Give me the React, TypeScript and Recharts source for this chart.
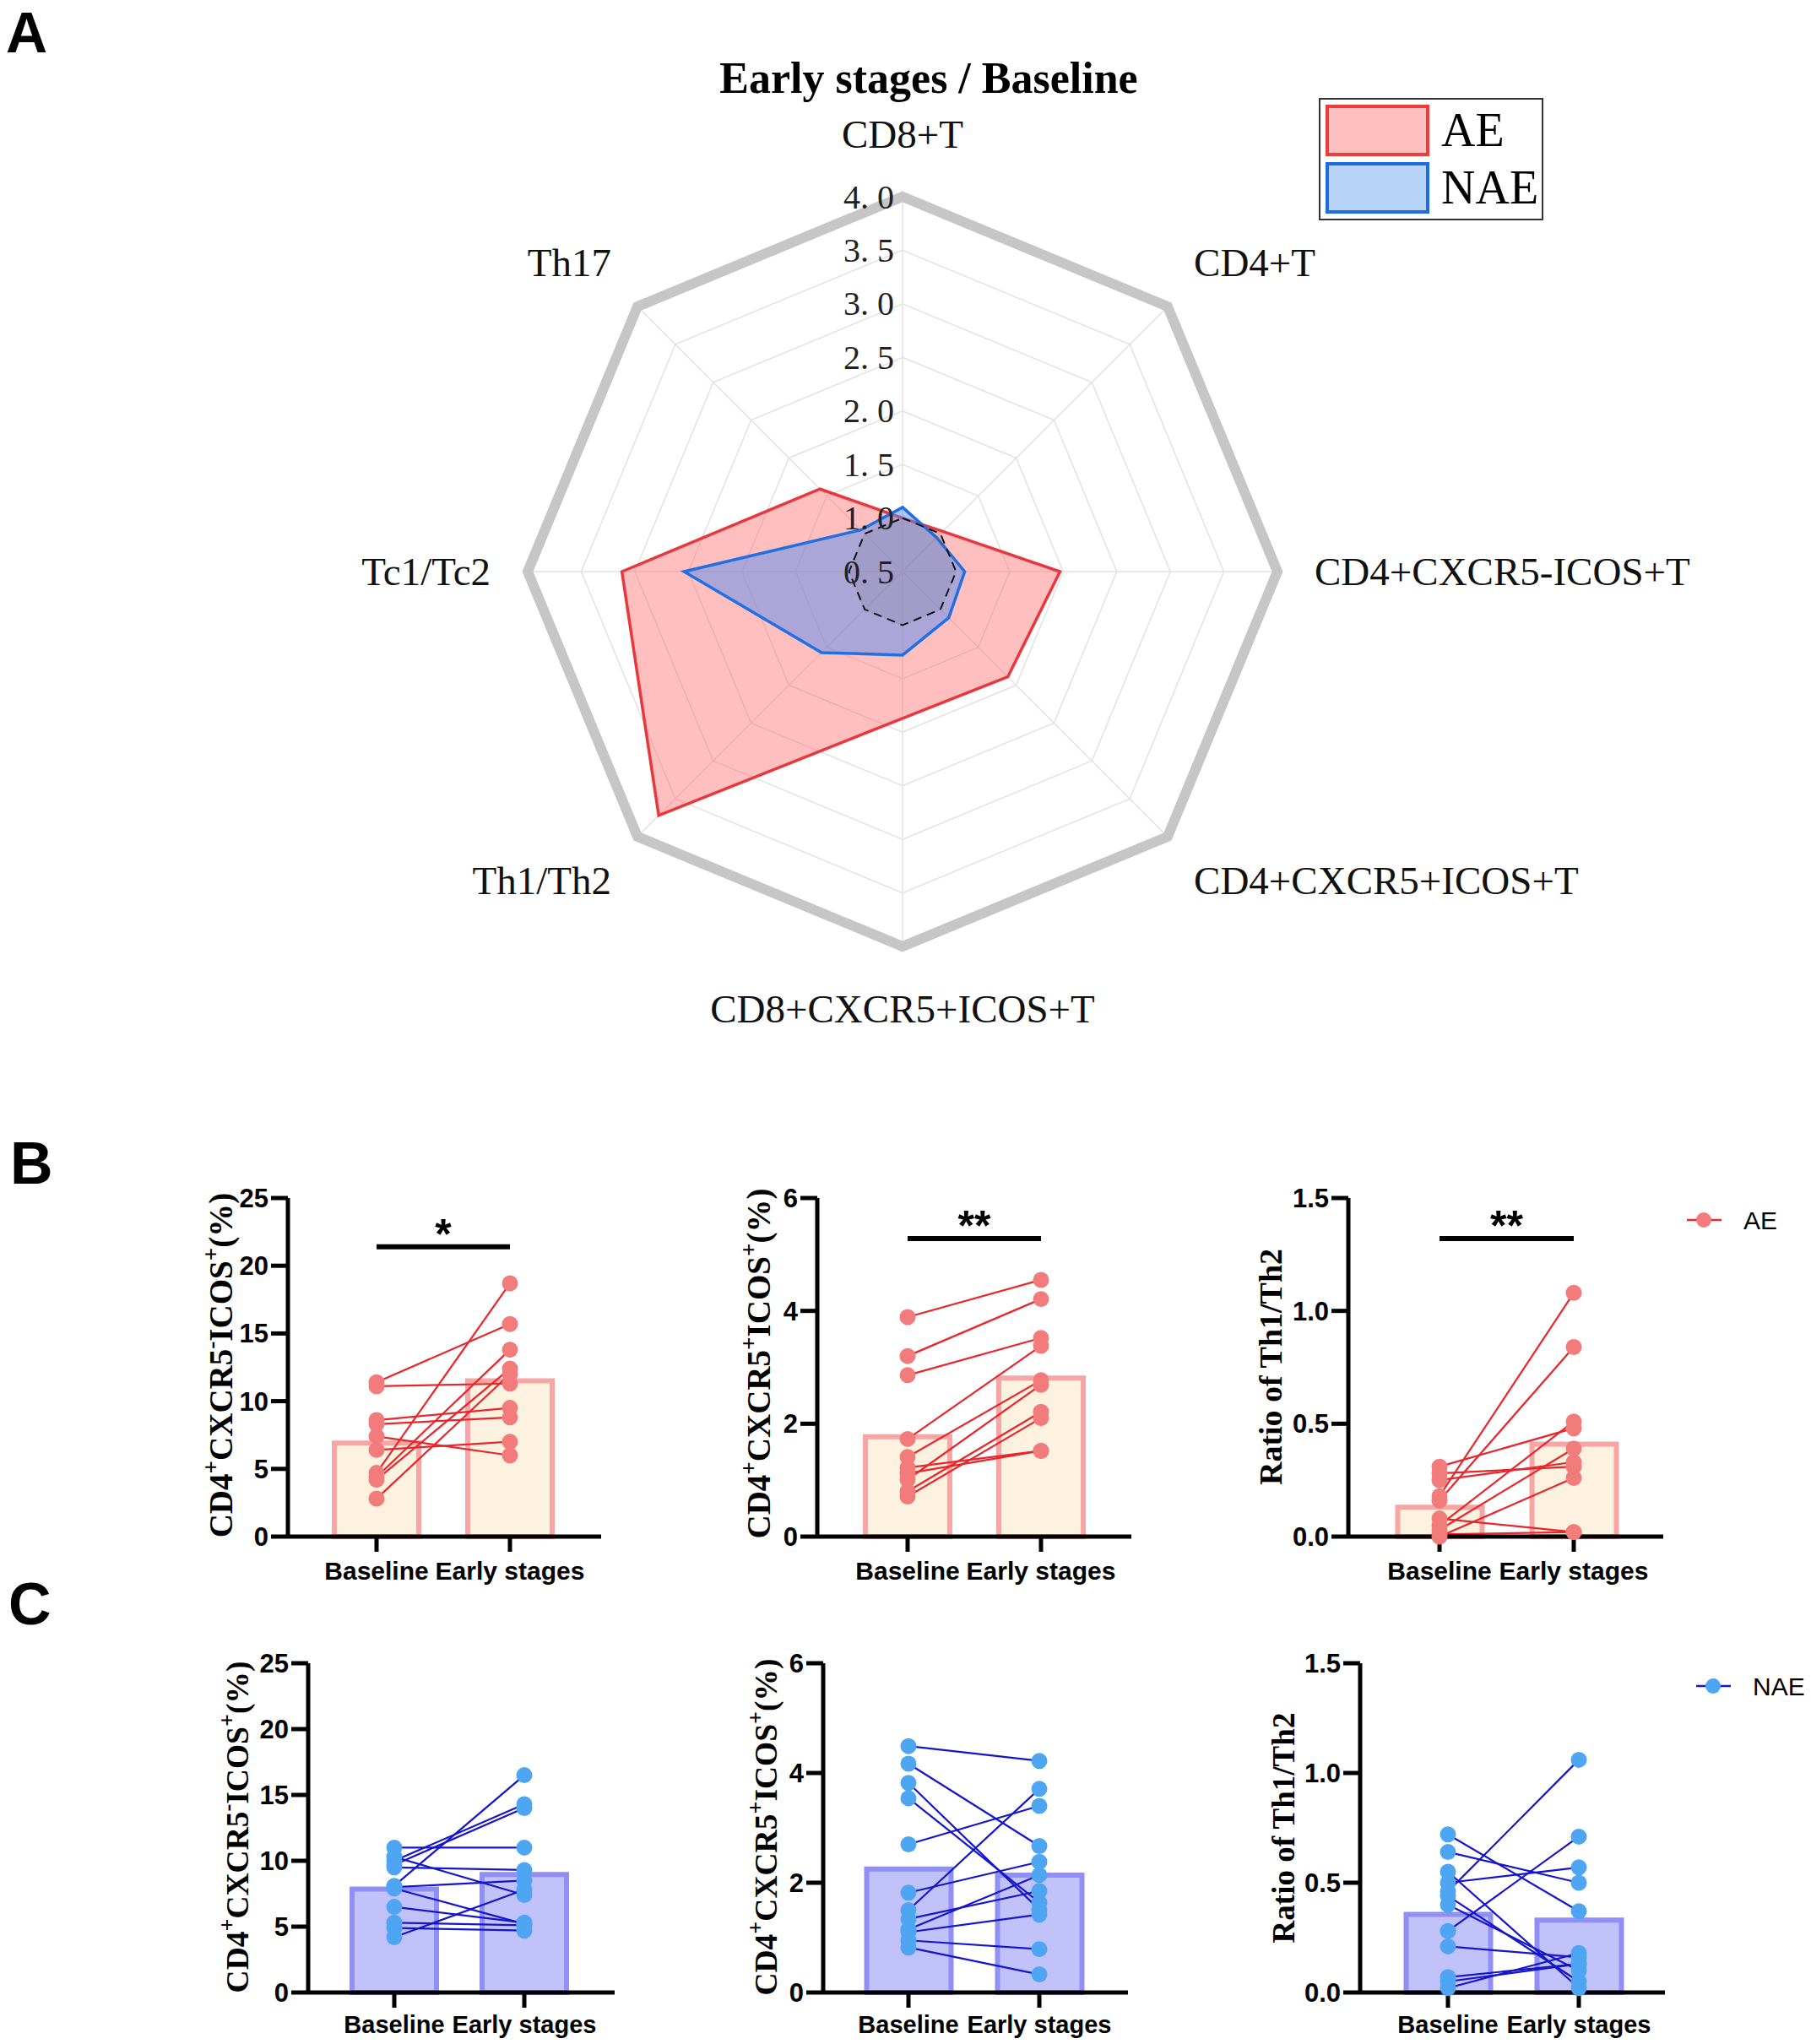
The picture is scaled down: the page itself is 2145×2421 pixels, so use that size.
import React from "react";
import {
  RadarChart,
  Radar,
  PolarGrid,
  PolarAngleAxis,
  PolarRadiusAxis,
  ComposedChart,
  Bar,
  Line,
  XAxis,
  YAxis,
  ReferenceLine,
} from "recharts";

const SERIF = '"Liberation Serif", "Times New Roman", serif';
const SANS = '"Liberation Sans", Arial, sans-serif';

// ---- A: radar, Early stages / Baseline ratios ----
const radarAxes = [
  "CD8+T",
  "CD4+T",
  "CD4+CXCR5-ICOS+T",
  "CD4+CXCR5+ICOS+T",
  "CD8+CXCR5+ICOS+T",
  "Th1/Th2",
  "Tc1/Tc2",
  "Th17",
];
const aeRatio = [1.0, 1.03, 1.97, 1.89, 1.87, 3.72, 3.12, 1.59];
const naeRatio = [1.1, 0.95, 1.08, 1.11, 1.28, 1.57, 2.54, 1.05];
const baselineRatio = [1, 1, 1, 1, 1, 1, 1, 1];
const radarTicks = [0.5, 1, 1.5, 2, 2.5, 3, 3.5, 4];

// ---- B / C: paired values ----
const stages = ["Baseline", "Early stages"];

const aeNegBase = [11.4, 11.1, 8.6, 8.3, 7.4, 6.4, 4.7, 4.4, 4.2, 2.8];
const aeNegEarly = [15.7, 11.3, 9.5, 8.8, 6.0, 7.0, 18.7, 13.8, 12.4, 12.0];
const aeNegMean = [6.9, 11.5];

const aePosBase = [3.89, 3.2, 2.86, 1.73, 1.41, 1.22, 1.12, 1.01, 0.8, 0.71];
const aePosEarly = [4.55, 4.21, 3.52, 3.38, 2.77, 1.52, 1.52, 2.69, 2.21, 2.1];
const aePosMean = [1.77, 2.81];

const aeThBase = [0.31, 0.28, 0.25, 0.18, 0.16, 0.08, 0.05, 0.03, 0.01, 0.0];
const aeThEarly = [0.48, 0.31, 0.33, 1.08, 0.84, 0.02, 0.51, 0.39, 0.02, 0.26];
const aeThMean = [0.13, 0.41];

const naeNegBase = [11.0, 10.0, 9.7, 9.5, 10.3, 8.0, 8.1, 7.9, 6.5, 5.3, 4.9, 4.2];
const naeNegEarly = [11.0, 14.3, 14.0, 9.3, 7.4, 8.5, 16.5, 5.2, 5.3, 5.1, 4.7, 7.8];
const naeNegMean = [7.85, 8.96];

const naePosBase = [4.49, 4.17, 3.82, 3.54, 2.7, 1.82, 1.5, 1.34, 1.15, 1.1, 0.95, 0.82];
const naePosEarly = [4.22, 2.67, 1.51, 1.64, 3.4, 2.38, 3.71, 1.85, 2.14, 1.42, 0.79, 0.33];
const naePosMean = [2.25, 2.14];

const naeThBase = [0.72, 0.64, 0.55, 0.5, 0.46, 0.44, 0.4, 0.28, 0.21, 0.07, 0.05, 0.02];
const naeThEarly = [0.37, 0.5, 0.02, 0.57, 1.06, 0.05, 0.1, 0.71, 0.16, 0.13, 0.13, 0.18];
const naeThMean = [0.356, 0.33];

const CX = 1069;
const CY = 677;

const AngleTick = (props: any) => {
  const { x, y, payload } = props;
  const ang = Math.atan2(CY - y, x - CX);
  const cos = Math.cos(ang);
  const sin = Math.sin(ang);
  const anchor = cos > 0.1 ? "start" : cos < -0.1 ? "end" : "middle";
  return (
    <text
      x={CX + 488 * cos}
      y={CY - 518 * sin}
      textAnchor={anchor}
      dominantBaseline="central"
      fontFamily={SERIF}
      fontSize={47}
      fill="#111"
    >
      {payload.value}
    </text>
  );
};

const RadiusTick = (props: any) => {
  const { x, y, payload } = props;
  return (
    <text
      x={x - 10}
      y={y}
      textAnchor="end"
      dominantBaseline="central"
      fontFamily={SERIF}
      fontSize={40}
      fill="#222"
    >
      {Number(payload.value).toFixed(1).replace(".", ". ")}
    </text>
  );
};

const RadarPanel = () => {
  const data = radarAxes.map((axis, i) => ({
    axis,
    ae: aeRatio[i],
    nae: naeRatio[i],
    base: baselineRatio[i],
  }));
  return (
    <div style={{ position: "absolute", left: 0, top: 0, width: 2145, height: 1290 }}>
      <RadarChart
        width={2145}
        height={1290}
        data={data}
        cx={CX}
        cy={CY}
        outerRadius={444}
        margin={{ top: 0, right: 0, bottom: 0, left: 0 }}
      >
        <PolarGrid gridType="polygon" stroke="#e2e2e2" strokeWidth={1.5} />
        <PolarAngleAxis
          dataKey="axis"
          axisLineType="polygon"
          axisLine={{ stroke: "#c6c6c6", strokeWidth: 12 }}
          tickLine={false}
          tick={AngleTick}
        />
        <PolarRadiusAxis
          type="number"
          angle={90}
          domain={[0.5, 4]}
          ticks={radarTicks as any}
          tickCount={8}
          axisLine={false}
          tick={RadiusTick}
        />
        <Radar
          dataKey="ae"
          stroke="#e8383d"
          strokeWidth={3.5}
          fill="#ff6b6b"
          fillOpacity={0.43}
          isAnimationActive={false}
        />
        <Radar
          dataKey="nae"
          stroke="#1f6fe5"
          strokeWidth={3.5}
          fill="#5a8cf0"
          fillOpacity={0.5}
          isAnimationActive={false}
        />
        <Radar
          dataKey="base"
          stroke="#111"
          strokeWidth={2}
          strokeDasharray="10 7"
          fill="#4a4a4a"
          fillOpacity={0.1}
          isAnimationActive={false}
        />
      </RadarChart>
    </div>
  );
};

type PanelProps = {
  base: number[];
  early: number[];
  mean: number[];
  yMax: number;
  yTicks: number[];
  decimals: number;
  axisX: number;
  topY: number;
  zeroY: number;
  rightX: number;
  c1: number;
  c2: number;
  barFill: string;
  barStroke: string;
  dotFill: string;
  lineStroke: string;
  tickGap: number;
  tickFont: number;
  sig?: { y: number; text: string };
};

const YW = 150;
const MT = 120;
const XH = 80;
const MR = 12;

const PairPanel = (p: PanelProps) => {
  const plotW = p.rightX - p.axisX;
  const band = p.c2 - p.c1;
  const padL = p.c1 - p.axisX - band / 2;
  const padR = plotW - padL - 2 * band;
  const width = plotW + YW + MR;
  const height = p.zeroY - p.topY + MT + XH;
  const data = stages.map((name, s) => {
    const row: any = { name, mean: p.mean[s] };
    const vals = s === 0 ? p.base : p.early;
    vals.forEach((v, i) => {
      row[`p${i}`] = v;
    });
    return row;
  });
  const axisStyle = { stroke: "#000", strokeWidth: 5 };
  return (
    <div style={{ position: "absolute", left: p.axisX - YW, top: p.topY - MT, width, height }}>
      <ComposedChart width={width} height={height} data={data} margin={{ top: MT, right: MR, bottom: 0, left: 0 }}>
        <XAxis
          dataKey="name"
          type="category"
          interval={0}
          height={XH}
          padding={{ left: padL, right: padR }}
          tickSize={18}
          tickMargin={p.tickGap}
          axisLine={axisStyle}
          tickLine={axisStyle}
          tick={{ fontFamily: SANS, fontWeight: 700, fontSize: p.tickFont, fill: "#000" }}
        />
        <YAxis
          type="number"
          domain={[0, p.yMax]}
          ticks={p.yTicks}
          interval={0}
          width={YW}
          tickSize={20}
          tickMargin={3}
          axisLine={axisStyle}
          tickLine={axisStyle}
          tickFormatter={(v: number) => v.toFixed(p.decimals)}
          tick={{ fontFamily: SANS, fontWeight: 700, fontSize: 31, fill: "#000" }}
        />
        <Bar
          dataKey="mean"
          barSize={100}
          fill={p.barFill}
          stroke={p.barStroke}
          strokeWidth={6}
          isAnimationActive={false}
        />
        {p.base.map((_, i) => (
          <Line
            key={i}
            dataKey={`p${i}`}
            stroke={p.lineStroke}
            strokeWidth={2.2}
            dot={{ r: 9.5, fill: p.dotFill, stroke: p.dotFill, strokeWidth: 0 }}
            activeDot={false}
            isAnimationActive={false}
          />
        ))}
        {p.sig && (
          <ReferenceLine
            segment={[
              { x: stages[0], y: p.sig.y },
              { x: stages[1], y: p.sig.y },
            ]}
            stroke="#000"
            strokeWidth={6}
            label={{
              value: p.sig.text,
              position: "top",
              offset: -2,
              fill: "#000",
              fontSize: 50,
              fontWeight: 700,
              fontFamily: SANS,
            }}
          />
        )}
      </ComposedChart>
    </div>
  );
};

const Cd4Label = ({ x, y, size, neg }: { x: number; y: number; size: number; neg: boolean }) => {
  const sup = size * 0.42;
  const small = size * 0.7;
  return (
    <text
      transform={`translate(${x},${y}) rotate(-90)`}
      textAnchor="middle"
      fontFamily={SERIF}
      fontWeight={700}
      fontSize={size}
      fill="#000"
    >
      CD4
      <tspan dy={-sup} fontSize={small}>+</tspan>
      <tspan dy={sup}>CXCR5</tspan>
      <tspan dy={-sup} fontSize={small}>{neg ? "-" : "+"}</tspan>
      <tspan dy={sup}>ICOS</tspan>
      <tspan dy={-sup} fontSize={small}>+</tspan>
      <tspan dy={sup}>(%)</tspan>
    </text>
  );
};

const RatioLabel = ({ x, y, size }: { x: number; y: number; size: number }) => (
  <text
    transform={`translate(${x},${y}) rotate(-90)`}
    textAnchor="middle"
    fontFamily={SERIF}
    fontWeight={700}
    fontSize={size}
    fill="#000"
  >
    Ratio of Th1/Th2
  </text>
);

const SeriesKey = ({ x, y, name, line, dot }: { x: number; y: number; name: string; line: string; dot: string }) => (
  <g>
    <line x1={x} y1={y} x2={x + 41} y2={y} stroke={line} strokeWidth={2.5} />
    <circle cx={x + 20} cy={y} r={9} fill={dot} />
    <text x={x + 67} y={y + 11} fontFamily={SANS} fontSize={30} fill="#000">
      {name}
    </text>
  </g>
);

const Overlay = () => (
  <svg
    width={2145}
    height={2421}
    style={{ position: "absolute", left: 0, top: 0, pointerEvents: "none" }}
  >
    <text x={7} y={62} fontFamily={SANS} fontWeight={700} fontSize={68} fill="#000">A</text>
    <text x={12} y={1402} fontFamily={SANS} fontWeight={700} fontSize={70} fill="#000">B</text>
    <text x={10} y={1924} fontFamily={SANS} fontWeight={700} fontSize={70} fill="#000">C</text>

    <text x={1100} y={110} textAnchor="middle" fontFamily={SERIF} fontWeight={700} fontSize={52} fill="#000">
      Early stages / Baseline
    </text>

    <rect x={1563} y={117} width={264} height={143} fill="#fff" stroke="#333" strokeWidth={2} />
    <rect x={1572} y={126} width={119} height={57} fill="#ffbfbf" stroke="#ee3b3b" strokeWidth={4} />
    <rect x={1572} y={194} width={119} height={57} fill="#b7d4f6" stroke="#1c6ee0" strokeWidth={4} />
    <text x={1707} y={173} fontFamily={SERIF} fontSize={56} fill="#000">AE</text>
    <text x={1707} y={241} fontFamily={SERIF} fontSize={56} fill="#000">NAE</text>

    <Cd4Label x={275} y={1617} size={39} neg={true} />
    <Cd4Label x={912} y={1615} size={39} neg={false} />
    <RatioLabel x={1518} y={1619} size={38} />
    <Cd4Label x={294} y={2164} size={37.5} neg={true} />
    <Cd4Label x={920} y={2164} size={37.5} neg={false} />
    <RatioLabel x={1533} y={2165} size={37} />

    <SeriesKey x={1998} y={1445} name="AE" line="#e8262b" dot="#f27b7b" />
    <SeriesKey x={2009} y={1997} name="NAE" line="#1515cc" dot="#4ea5f2" />
  </svg>
);

const AE_STYLE = { barFill: "#fdf1df", barStroke: "#f8a5a5", dotFill: "#f27b7b", lineStroke: "#e8262b" };
const NAE_STYLE = { barFill: "#c2c2fa", barStroke: "#8f8ff5", dotFill: "#4ea5f2", lineStroke: "#1515cc" };

export default function App() {
  return (
    <div style={{ position: "absolute", left: 0, top: 0, width: 2145, height: 2421, background: "#fff" }}>
      <RadarPanel />

      <PairPanel
        {...AE_STYLE}
        base={aeNegBase}
        early={aeNegEarly}
        mean={aeNegMean}
        yMax={25}
        yTicks={[0, 5, 10, 15, 20, 25]}
        decimals={0}
        axisX={341}
        topY={1419}
        zeroY={1820}
        rightX={712}
        c1={446}
        c2={604}
        tickGap={12}
        tickFont={30}
        sig={{ y: 21.4, text: "*" }}
      />
      <PairPanel
        {...AE_STYLE}
        base={aePosBase}
        early={aePosEarly}
        mean={aePosMean}
        yMax={6}
        yTicks={[0, 2, 4, 6]}
        decimals={0}
        axisX={968}
        topY={1419}
        zeroY={1820}
        rightX={1340}
        c1={1075}
        c2={1233}
        tickGap={12}
        tickFont={30}
        sig={{ y: 5.28, text: "**" }}
      />
      <PairPanel
        {...AE_STYLE}
        base={aeThBase}
        early={aeThEarly}
        mean={aeThMean}
        yMax={1.5}
        yTicks={[0, 0.5, 1, 1.5]}
        decimals={1}
        axisX={1597}
        topY={1419}
        zeroY={1820}
        rightX={1970}
        c1={1705}
        c2={1864}
        tickGap={12}
        tickFont={30}
        sig={{ y: 1.32, text: "**" }}
      />

      <PairPanel
        {...NAE_STYLE}
        base={naeNegBase}
        early={naeNegEarly}
        mean={naeNegMean}
        yMax={25}
        yTicks={[0, 5, 10, 15, 20, 25]}
        decimals={0}
        axisX={365}
        topY={1970}
        zeroY={2360}
        rightX={728}
        c1={467}
        c2={621}
        tickGap={9}
        tickFont={29}
      />
      <PairPanel
        {...NAE_STYLE}
        base={naePosBase}
        early={naePosEarly}
        mean={naePosMean}
        yMax={6}
        yTicks={[0, 2, 4, 6]}
        decimals={0}
        axisX={975}
        topY={1970}
        zeroY={2360}
        rightX={1336}
        c1={1076}
        c2={1231}
        tickGap={9}
        tickFont={29}
      />
      <PairPanel
        {...NAE_STYLE}
        base={naeThBase}
        early={naeThEarly}
        mean={naeThMean}
        yMax={1.5}
        yTicks={[0, 0.5, 1, 1.5]}
        decimals={1}
        axisX={1611}
        topY={1970}
        zeroY={2360}
        rightX={1972}
        c1={1715}
        c2={1870}
        tickGap={9}
        tickFont={29}
      />

      <Overlay />
    </div>
  );
}
